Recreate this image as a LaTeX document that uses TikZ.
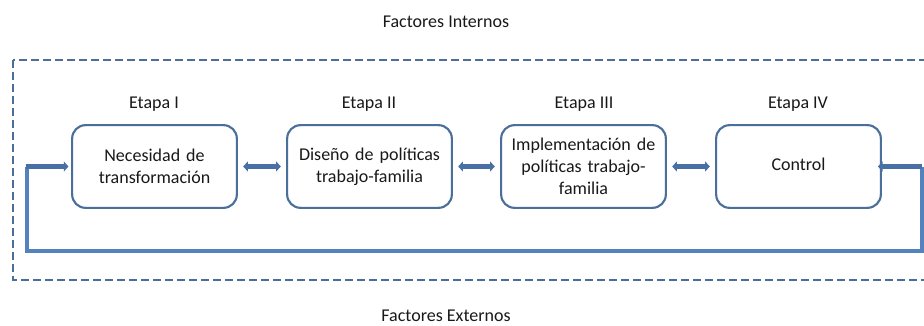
\documentclass[tikz,border=0pt]{standalone}
\usepackage{fontspec}
\setmainfont{Carlito}
\usetikzlibrary{arrows.meta}
\definecolor{boxblue}{RGB}{74,111,154}
\definecolor{arrblue}{RGB}{72,112,165}
\definecolor{loopblue}{RGB}{84,130,190}
\definecolor{txt}{RGB}{25,25,25}
\tikzset{
  stage/.style={draw=boxblue, line width=1.6pt, rounded corners=10pt, fill=white,
    minimum width=123.5pt, minimum height=62pt, text width=118pt, align=center,
    font=\fontsize{13.5pt}{16.5pt}\selectfont, text=txt, inner sep=2pt},
  lbl/.style={font=\fontsize{13.5pt}{16pt}\selectfont, text=txt, inner sep=0pt},
  dbl/.style={draw=arrblue, line width=3.2pt, {Triangle[length=3.5pt,width=7.5pt]}-{Triangle[length=3.5pt,width=7.5pt]}, shorten <=4pt, shorten >=4pt},
  fb/.style={draw=loopblue, line width=2.4pt},
  fbarr/.style={draw=arrblue, line width=3.2pt, -{Triangle[length=3.5pt,width=7.5pt]}},
  frame/.style={draw=boxblue, line width=1.6pt, dash pattern=on 6pt off 3pt}
}
\begin{document}
\begin{tikzpicture}[x=0.75pt,y=-0.75pt]
\useasboundingbox (0,0) rectangle (924,325);
\clip (0,0) rectangle (924,325);
\fill[white] (0,0) rectangle (924,325);
% frame
\draw[frame] (13,60) rectangle (940,280);
% labels
\node[lbl] (fi) at (446,22) {Factores Internos};
\node[lbl] (fe) at (446,316) {Factores Externos};
% stages
\node[stage] (b1) at (154.5,166.5) {Necesidad de\\transformación};
\node[stage] (b2) at (369.5,166.5) {Diseño de políticas\\trabajo-familia};
\node[stage] (b3) at (583.5,166.5) {Implementación de\\políticas trabajo-\\familia};
\node[stage] (b4) at (798.5,166.5) {\raisebox{3pt}{Control}};
\node[lbl] (e1) at (154,104) {Etapa I};
\node[lbl] (e2) at (369,104) {Etapa II};
\node[lbl] (e3) at (584,104) {Etapa III};
\node[lbl] (e4) at (798,104) {Etapa IV};
% double arrows
\draw[dbl] (b1.east) -- (b2.west);
\draw[dbl] (b2.east) -- (b3.west);
\draw[dbl] (b3.east) -- (b4.west);
% feedback loop
\coordinate (r1) at (922,166.5);
\coordinate (r2) at (922,251);
\coordinate (l2) at (27,251);
\coordinate (l1) at (27,166.5);
\draw[fb] (r1) -- (r2) -- (l2) -- (l1);
\draw[fbarr] (r1) -- ([xshift=-3pt]b4.east);
\draw[fbarr] ([xshift=-1pt]l1) -- ([xshift=-2pt]b1.west);
\end{tikzpicture}
\end{document}
